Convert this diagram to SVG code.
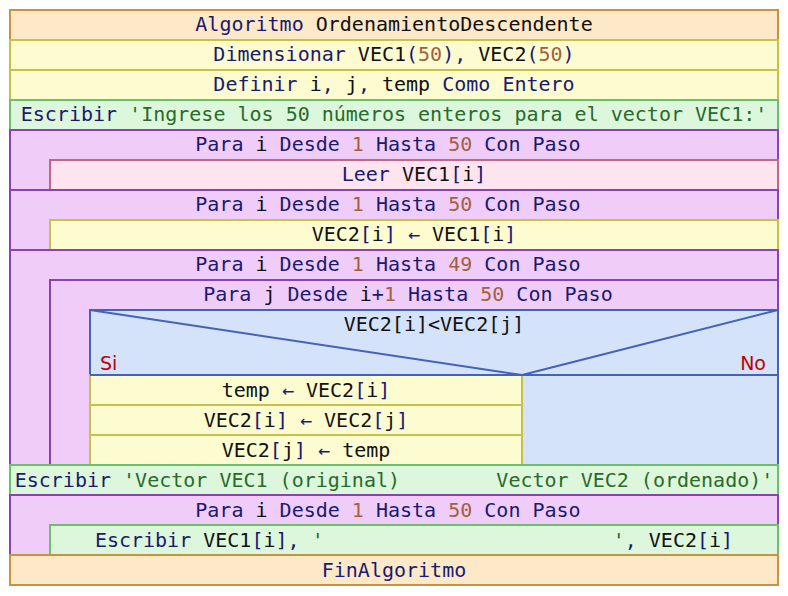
<svg xmlns="http://www.w3.org/2000/svg" width="788" height="596" viewBox="0 0 788 596">
  <style>
    .alg { fill: #fde8c8; stroke: #c8923e; stroke-width: 2; }
    .asg { fill: #fdfbd0; stroke: #c8c048; stroke-width: 2; }
    .out { fill: #dcf7dc; stroke: #6cc06c; stroke-width: 2; }
    .loop { fill: #f0cdf8; stroke: #8c40b8; stroke-width: 2; }
    .inp { fill: #fde4ee; stroke: #c06888; stroke-width: 2; }
    .cond { fill: #d4e2fa; stroke: #4462b8; stroke-width: 2; }
    .diag { fill: none; stroke: #4462b8; stroke-width: 2; }
    text { font-family: "DejaVu Sans Mono", "Liberation Mono", monospace; font-size: 20px; fill: #1a1a70; white-space: pre; }
    .c { text-anchor: middle; }
    .id { fill: #111111; }
    .num { fill: #a0623e; }
    .str { fill: #2a6a2a; }
    .lbl { font-family: "DejaVu Sans", "Liberation Sans", sans-serif; font-size: 19px; fill: #c00000; }
  </style>

  <g id="algoritmo">
    <rect class="alg" x="10" y="10" width="768" height="30"/>
    <text class="c" x="394" y="31">Algoritmo <tspan class="id">OrdenamientoDescendente</tspan></text>
  </g>

  <g id="dimensionar">
    <rect class="asg" x="10" y="40" width="768" height="30"/>
    <text class="c" x="394" y="61">Dimensionar <tspan class="id">VEC1</tspan>(<tspan class="num">50</tspan>), <tspan class="id">VEC2</tspan>(<tspan class="num">50</tspan>)</text>
  </g>

  <g id="definir">
    <rect class="asg" x="10" y="70" width="768" height="30"/>
    <text class="c" x="394" y="91">Definir <tspan class="id">i</tspan>, <tspan class="id">j</tspan>, <tspan class="id">temp</tspan> Como Entero</text>
  </g>

  <g id="escribir1">
    <rect class="out" x="10" y="100" width="768" height="30"/>
    <text class="c" x="394" y="121">Escribir <tspan class="str">'Ingrese los 50 números enteros para el vector VEC1:'</tspan></text>
  </g>

  <g id="para1">
    <rect class="loop" x="10" y="130" width="768" height="60"/>
    <text class="c" x="394" y="151">Para <tspan class="id">i</tspan> Desde <tspan class="num">1</tspan> Hasta <tspan class="num">50</tspan> Con Paso </text>
  </g>
  <g id="leer">
    <rect class="inp" x="50" y="160" width="728" height="30"/>
    <text class="c" x="414" y="181">Leer <tspan class="id">VEC1</tspan>[<tspan class="id">i</tspan>]</text>
  </g>

  <g id="para2">
    <rect class="loop" x="10" y="190" width="768" height="60"/>
    <text class="c" x="394" y="211">Para <tspan class="id">i</tspan> Desde <tspan class="num">1</tspan> Hasta <tspan class="num">50</tspan> Con Paso </text>
  </g>
  <g id="copiar">
    <rect class="asg" x="50" y="220" width="728" height="30"/>
    <text class="c" x="414" y="241"><tspan class="id">VEC2</tspan>[<tspan class="id">i</tspan>] ← <tspan class="id">VEC1</tspan>[<tspan class="id">i</tspan>]</text>
  </g>

  <g id="para3">
    <rect class="loop" x="10" y="250" width="768" height="215"/>
    <text class="c" x="394" y="271">Para <tspan class="id">i</tspan> Desde <tspan class="num">1</tspan> Hasta <tspan class="num">49</tspan> Con Paso </text>
  </g>
  <g id="para4">
    <rect class="loop" x="50" y="280" width="728" height="185"/>
    <text class="c" x="414" y="301">Para <tspan class="id">j</tspan> Desde <tspan class="id">i</tspan>+<tspan class="num">1</tspan> Hasta <tspan class="num">50</tspan> Con Paso </text>
  </g>

  <g id="si">
    <rect class="cond" x="90" y="310" width="688" height="155"/>
    <text class="c id" x="434" y="331">VEC2[i]&lt;VEC2[j]</text>
    <text class="lbl" x="100" y="370">Si</text>
    <text class="lbl" x="766" y="370" text-anchor="end">No</text>
  </g>

  <g id="temp">
    <rect class="asg" x="90" y="375" width="432" height="30"/>
    <text class="c" x="306" y="397"><tspan class="id">temp</tspan> ← <tspan class="id">VEC2</tspan>[<tspan class="id">i</tspan>]</text>
  </g>
  <g id="swap1">
    <rect class="asg" x="90" y="405" width="432" height="30"/>
    <text class="c" x="306" y="427"><tspan class="id">VEC2</tspan>[<tspan class="id">i</tspan>] ← <tspan class="id">VEC2</tspan>[<tspan class="id">j</tspan>]</text>
  </g>
  <g id="swap2">
    <rect class="asg" x="90" y="435" width="432" height="30"/>
    <text class="c" x="306" y="457"><tspan class="id">VEC2</tspan>[<tspan class="id">j</tspan>] ← <tspan class="id">temp</tspan></text>
  </g>

  <g id="escribir2">
    <rect class="out" x="10" y="465" width="768" height="30"/>
    <text class="c" x="394" y="487">Escribir <tspan class="str">'Vector VEC1 (original)        Vector VEC2 (ordenado)'</tspan></text>
  </g>

  <g id="para5">
    <rect class="loop" x="10" y="495" width="768" height="60"/>
    <text class="c" x="394" y="517">Para <tspan class="id">i</tspan> Desde <tspan class="num">1</tspan> Hasta <tspan class="num">50</tspan> Con Paso </text>
  </g>
  <g id="escribir3">
    <rect class="out" x="50" y="525" width="728" height="30"/>
    <text class="c" x="414" y="547">Escribir <tspan class="id">VEC1</tspan>[<tspan class="id">i</tspan>], <tspan class="str">'                        '</tspan>, <tspan class="id">VEC2</tspan>[<tspan class="id">i</tspan>]</text>
  </g>

  <g id="finalgoritmo">
    <rect class="alg" x="10" y="555" width="768" height="30"/>
    <text class="c" x="394" y="577">FinAlgoritmo</text>
  </g>

  <!-- branch dividers of the condition -->
  <g id="connectors">
    <line class="diag" x1="90" y1="310" x2="522" y2="375"/>
    <line class="diag" x1="778" y1="310" x2="522" y2="375"/>
    <line class="diag" x1="90" y1="375" x2="778" y2="375"/>
  </g>
</svg>
